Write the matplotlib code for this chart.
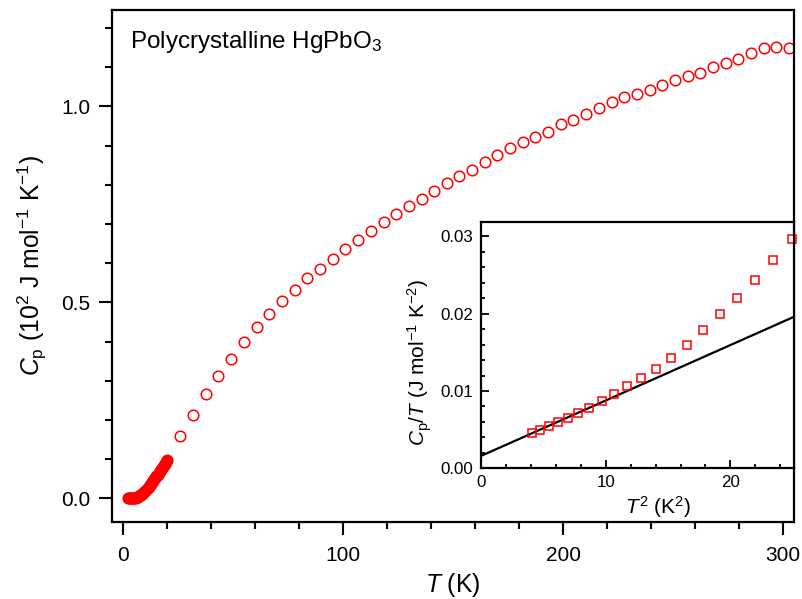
import matplotlib
matplotlib.use("Agg")
import matplotlib.pyplot as plt
from matplotlib.ticker import MultipleLocator

plt.rcParams['font.family'] = ['Liberation Sans', 'DejaVu Sans']
plt.rcParams['mathtext.fontset'] = 'custom'
plt.rcParams['mathtext.rm'] = 'Liberation Sans'
plt.rcParams['mathtext.it'] = 'Liberation Sans:italic'

# ---- main data: Cp (10^2 J mol^-1 K^-1) vs T (K) ----
T_low = [2.0, 2.5, 3.0, 3.5, 4.0, 4.5, 5.0, 5.5, 6.0, 6.5, 7.0, 7.5, 8.0, 8.5,
         9.0, 9.5, 10.0, 10.5, 11.0, 11.5, 12.0, 12.5, 13.0, 13.5, 14.0, 14.5,
         15.0, 15.5, 16.0, 16.5, 17.0, 17.5, 18.0, 18.5, 19.0, 19.5, 20.0]
Cp_low = [0.0001, 0.0002, 0.0004, 0.0006, 0.0009, 0.0012, 0.0016, 0.0023,
          0.0033, 0.0045, 0.0060, 0.0078, 0.0099, 0.0122, 0.0147, 0.0174,
          0.0203, 0.0234, 0.0266, 0.0300, 0.0335, 0.0372, 0.0410, 0.0449,
          0.0488, 0.0528, 0.0568, 0.0608, 0.0648, 0.0689, 0.0729, 0.0770,
          0.0810, 0.0851, 0.0891, 0.0932, 0.0980]

T_high = [25.8, 31.6, 37.4, 43.2, 49.0, 54.8, 60.6, 66.4, 72.2, 78.0, 83.7,
          89.5, 95.3, 101.0, 106.8, 112.5, 118.3, 124.0, 129.8, 135.6, 141.3,
          147.1, 152.8, 158.6, 164.4, 170.1, 175.9, 181.7, 187.4, 193.2, 199.0,
          204.7, 210.5, 216.3, 222.0, 227.8, 233.6, 239.3, 245.1, 250.9, 256.6,
          262.4, 268.2, 273.9, 279.7, 285.5, 291.2, 297.0, 302.8]
Cp_high = [0.160, 0.213, 0.266, 0.312, 0.357, 0.400, 0.437, 0.471, 0.504,
           0.533, 0.562, 0.586, 0.611, 0.637, 0.659, 0.682, 0.705, 0.726,
           0.745, 0.765, 0.784, 0.804, 0.822, 0.839, 0.859, 0.876, 0.893,
           0.910, 0.922, 0.935, 0.954, 0.965, 0.980, 0.996, 1.011, 1.024,
           1.033, 1.043, 1.054, 1.067, 1.077, 1.086, 1.101, 1.111, 1.120,
           1.137, 1.148, 1.152, 1.150]

# ---- inset data: Cp/T vs T^2 ----
T2_in = [4.09, 4.76, 5.45, 6.20, 7.00, 7.80, 8.69, 9.68, 10.67, 11.73, 12.80,
         14.03, 15.26, 16.49, 17.80, 19.14, 20.53, 21.95, 23.44, 24.91]
CpT_in = [0.00461, 0.00496, 0.00548, 0.00599, 0.00647, 0.00711, 0.00776,
          0.00871, 0.00961, 0.01065, 0.01172, 0.01285, 0.01431, 0.01591,
          0.01785, 0.01992, 0.02207, 0.02432, 0.02695, 0.02966]
fit_x = [0.0, 25.1]
fit_y = [0.0016, 0.0196]

title_text = 'Polycrystalline HgPbO$_3$'

fig = plt.figure(figsize=(8.02, 5.99), dpi=100)
ax = fig.add_axes([112/802, 1-522/599, (794-112)/802, (522-10)/599])

red = '#ff0000'
ax.plot(T_low, Cp_low, 'o', ms=7.6, mfc=red, mec=red, mew=1.1, ls='none')
ax.plot(T_high, Cp_high, 'o', ms=7.6, mfc='none', mec=red, mew=1.1, ls='none')

ax.set_xlim(-5.2, 305)
ax.set_ylim(-0.06, 1.246)
ax.xaxis.set_major_locator(MultipleLocator(100))
ax.xaxis.set_minor_locator(MultipleLocator(20))
ax.yaxis.set_major_locator(MultipleLocator(0.5))
ax.yaxis.set_minor_locator(MultipleLocator(0.1))
ax.yaxis.set_major_formatter(matplotlib.ticker.FormatStrFormatter('%.1f'))
ax.tick_params(which='both', direction='out', width=1.5, labelsize=15,
               top=False, right=False)
ax.tick_params(which='major', length=9.5)
ax.tick_params(which='minor', length=5)
ax.tick_params(axis='x', which='major', pad=8)
ax.tick_params(axis='y', which='major', pad=6)
for s in ax.spines.values():
    s.set_linewidth(1.6)

ax.set_xlabel('$\\mathit{T}$ (K)', fontsize=17.8, labelpad=4)
ax.set_ylabel('$\\mathit{C}_\\mathrm{p}$ (10$^2$ J mol$^{-1}$ K$^{-1}$)', fontsize=17.8, labelpad=9)
ax.text((130-112)/682, (522-48)/512, title_text, transform=ax.transAxes,
        fontsize=17.5, ha='left', va='baseline')

# inset
ins = fig.add_axes([481/802, 1-468.3/599, (794-481)/802, (468.3-221.7)/599])
ins.plot(fit_x, fit_y, '-', color='black', lw=1.6)
ins.plot(T2_in, CpT_in, 's', ms=5.6, mfc='none', mec=red, mew=1.1, ls='none', clip_on=False)
ins.set_xlim(0, 25.1)
ins.set_ylim(0, 0.0319)
ins.xaxis.set_major_locator(MultipleLocator(10))
ins.xaxis.set_minor_locator(MultipleLocator(2))
ins.yaxis.set_major_locator(MultipleLocator(0.01))
ins.yaxis.set_minor_locator(MultipleLocator(0.002))
ins.yaxis.set_major_formatter(matplotlib.ticker.FormatStrFormatter('%.2f'))
ins.tick_params(which='both', direction='in', width=1.3, labelsize=12.2,
                top=False, right=False)
ins.tick_params(which='major', length=6)
ins.tick_params(which='minor', length=3)
ins.tick_params(axis='x', which='major', pad=5)
ins.tick_params(axis='y', which='major', pad=5.5)
for s in ins.spines.values():
    s.set_linewidth(1.6)
ins.set_xlabel('$\\mathit{T}^2$ (K$^2$)', fontsize=15)
ins.set_ylabel('$\\mathit{C}_\\mathrm{p}$/$\\mathit{T}$ (J mol$^{-1}$ K$^{-2}$)', fontsize=15)
ins.xaxis.set_label_coords((658-481)/313, (468.3-494)/246.6)
ins.yaxis.set_label_coords((434-481)/313, (468.3-362)/246.6)

fig.savefig('out.png', dpi=100)
